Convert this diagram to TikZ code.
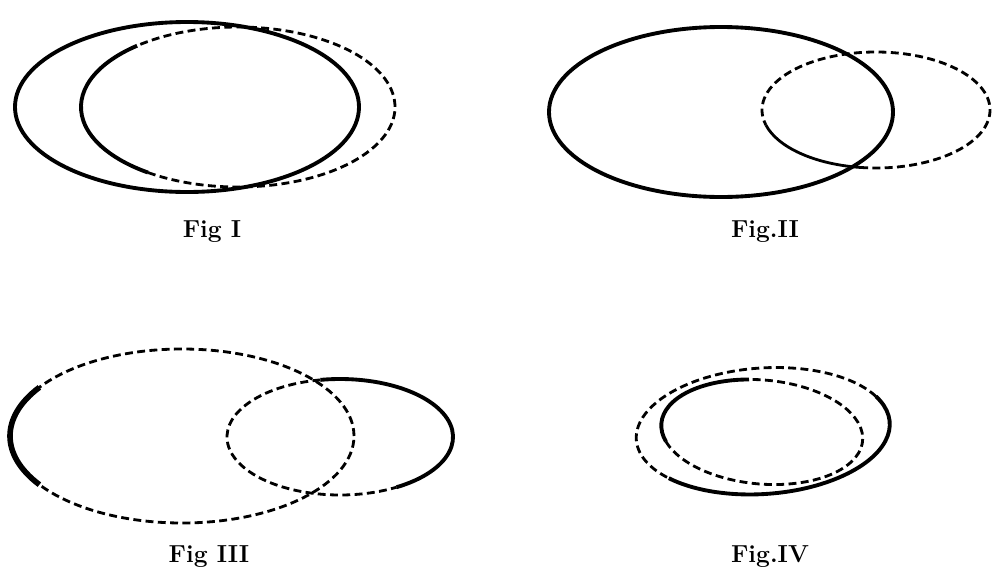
\documentclass[tikz,border=0pt]{standalone}
\usepackage{tikz}

\begin{document}
\begin{tikzpicture}[x=0.02cm, y=0.02cm, every node/.style={font=\fontsize{14}{16}\selectfont\bfseries}]
  \tikzstyle{full} = [line width=2.2pt]
  \tikzstyle{broken} = [line width=1.6pt, dash pattern=on 4.5pt off 2.5pt]
  \tikzstyle{heavy} = [line width=3.2pt]
  \useasboundingbox (0, 0) rectangle (1004, 583);
  % Fig I
  \draw[full] (187, 476) ellipse (172 and 85);
  \draw[full] (238, 476) ++(130:157 and 80) arc[start angle=130, end angle=235, x radius=157, y radius=80];
  \draw[broken] (238, 476) ++(235:157 and 80) arc[start angle=235, end angle=490, x radius=157, y radius=80];
  \node (figI) at (212, 351) {Fig I};
  % Fig II
  \draw[full] (721, 471) ellipse (172 and 85);
  \draw[broken] (876, 473) ++(262:114 and 58) arc[start angle=262, end angle=555, x radius=114, y radius=58];
  \draw[broken, solid] (876, 473) ++(195:114 and 58) arc[start angle=195, end angle=262, x radius=114, y radius=58];
  \node (figII) at (765, 351) {Fig.II};
  % Fig III
  \draw[broken] (182, 147) ellipse (172 and 87);
  \draw[heavy] (182, 147) ++(146:172 and 87) arc[start angle=146, end angle=214, x radius=172, y radius=87];
  \draw[full] (340, 146) ++(-60:113 and 58) arc[start angle=-60, end angle=100, x radius=113, y radius=58];
  \draw[broken] (340, 146) ++(100:113 and 58) arc[start angle=100, end angle=300, x radius=113, y radius=58];
  \node (figIII) at (209, 26) {Fig III};
  % Fig IV
  \begin{scope}[shift={(763, 152)}, rotate=4]
    \draw[broken] (25:127 and 63) arc[start angle=25, end angle=220, x radius=127, y radius=63];
    \draw[full] (220:127 and 63) arc[start angle=220, end angle=385, x radius=127, y radius=63];
  \end{scope}
  \begin{scope}[shift={(762, 151)}, rotate=-5]
    \draw[full] (100:101 and 52) arc[start angle=100, end angle=200, x radius=101, y radius=52];
    \draw[broken] (200:101 and 52) arc[start angle=200, end angle=460, x radius=101, y radius=52];
  \end{scope}
  \node (figIV) at (770, 26) {Fig.IV};
\end{tikzpicture}
\end{document}
